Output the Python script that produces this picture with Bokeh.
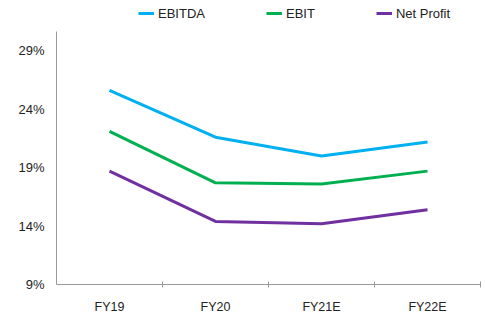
from bokeh.plotting import figure
from bokeh.models import (Range1d, FixedTicker, PrintfTickFormatter, Legend, LegendItem)
from bokeh.embed import file_html
from bokeh.resources import INLINE

categories = ["FY19", "FY20", "FY21E", "FY22E"]
ebitda = [25.6, 21.6, 20.0, 21.2]
ebit = [22.1, 17.7, 17.6, 18.7]
net_profit = [18.7, 14.4, 14.2, 15.4]
y_ticks = [9, 14, 19, 24, 29]

x = [i + 0.5 for i in range(len(categories))]

FONT = "Liberation Sans"

p = figure(width=485, height=316, output_backend="svg", toolbar_location=None,
           x_range=Range1d(0, len(categories)), y_range=Range1d(9, 33.3),
           min_border_left=56, min_border_right=5, min_border_top=0, min_border_bottom=30)
p.outline_line_color = None
p.grid.grid_line_color = None

r1 = p.line(x, ebitda, line_color="#00B0F0", line_width=3)
r2 = p.line(x, ebit, line_color="#00B050", line_width=3)
r3 = p.line(x, net_profit, line_color="#7030A0", line_width=3)

xa = p.xaxis[0]
xa.ticker = FixedTicker(ticks=x, minor_ticks=[i + 1 for i in range(len(categories))])
xa.major_label_overrides = {v: c for v, c in zip(x, categories)}
xa.major_tick_line_color = None
xa.major_tick_in = 0
xa.major_tick_out = 0
xa.minor_tick_in = 3
xa.minor_tick_out = 3
xa.minor_tick_line_color = "#9a9a9a"
xa.axis_line_color = "#9a9a9a"
xa.major_label_text_font = FONT
xa.major_label_text_font_size = "12.5px"
xa.major_label_text_color = "#222222"
xa.major_label_standoff = 12

ya = p.yaxis[0]
ya.bounds = (9, 30.66)
ya.ticker = FixedTicker(ticks=y_ticks, minor_ticks=[])
ya.formatter = PrintfTickFormatter(format="%d%%")
ya.major_tick_line_color = None
ya.minor_tick_line_color = None
ya.major_tick_in = 0
ya.major_tick_out = 0
ya.minor_tick_in = 0
ya.minor_tick_out = 0
ya.axis_line_color = "#9a9a9a"
ya.major_label_text_font = FONT
ya.major_label_text_font_size = "13px"
ya.major_label_text_color = "#222222"
ya.major_label_standoff = 12

legend = Legend(items=[LegendItem(label="EBITDA", renderers=[r1]),
                       LegendItem(label="EBIT", renderers=[r2]),
                       LegendItem(label="Net Profit", renderers=[r3])],
                orientation="horizontal", location=(82, 261),
                padding=0, margin=0, spacing=61, glyph_width=16, glyph_height=20,
                label_standoff=4, label_text_font=FONT, label_text_font_size="13px",
                label_text_color="#222222", border_line_color=None,
                background_fill_alpha=0)
p.add_layout(legend, "center")

open("out.html", "w").write(file_html(p, INLINE))
